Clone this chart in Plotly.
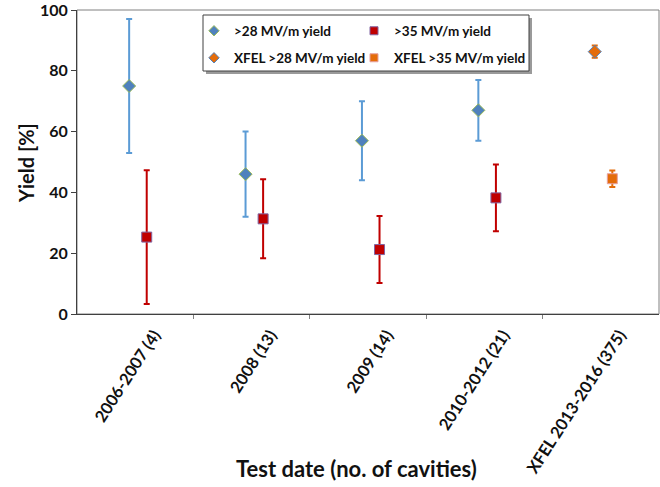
import plotly.graph_objects as go

# ---- data ----
categories = ["2006-2007 (4)", "2008 (13)", "2009 (14)", "2010-2012 (21)", "XFEL 2013-2016 (375)"]
yield28 = [75, 46, 57, 67]
err28 = [22, 14, 13, 10]
yield35 = [25.3, 31.3, 21.2, 38.2]
err35 = [22, 13, 11, 11]
xfel_yield28 = [86.3]
xfel_err28 = [2.0]
xfel_yield35 = [44.5]
xfel_err35 = [2.7]
series_names = [">28 MV/m yield", ">35 MV/m yield", "XFEL >28 MV/m yield", "XFEL >35 MV/m yield"]

FONT = "Lato"
TXT = "#111111"
BLUE = "#5B9BD5"
RED = "#C00000"
ORANGE = "#E46C0A"

idx = list(range(len(categories)))
off28 = -0.052
off35 = 0.099

x28 = [i + off28 for i in idx[:4]]
x35 = [i + off35 for i in idx[:4]]
xx28 = [idx[4] + off28]
xx35 = [idx[4] + off35]

styles = [
    dict(symbol="diamond", color="#4F81BD", line=dict(color="#9BBB59", width=1)),
    dict(symbol="square", color=RED, line=dict(color="#8064A2", width=1)),
    dict(symbol="diamond", color=ORANGE, line=dict(color="#4F81BD", width=1)),
    dict(symbol="square", color=ORANGE, line=dict(color="#E6A0A0", width=1)),
]
bar_colors = [BLUE, RED, ORANGE, ORANGE]
xs = [x28, x35, xx28, xx35]
ys = [yield28, yield35, xfel_yield28, xfel_yield35]
errs = [err28, err35, xfel_err28, xfel_err35]

fig = go.Figure()
for k in range(4):
    fig.add_trace(go.Scatter(
        x=xs[k], y=ys[k], mode="markers", name=series_names[k], showlegend=False,
        marker=dict(size=10, **styles[k]),
        error_y=dict(type="data", array=errs[k], color=bar_colors[k], thickness=2, width=3),
    ))
# legend entries (small markers, as in the original legend), one legend per cell of the 2x2 box
legend_ids = ["legend", "legend2", "legend3", "legend4"]
for k in range(4):
    fig.add_trace(go.Scatter(
        x=[None], y=[None], mode="markers", name=series_names[k], showlegend=True,
        legend=legend_ids[k],
        marker=dict(size=8, **styles[k]),
    ))

boundaries = [i + 0.5 for i in idx[:-1]]

# plot area pixel geometry
L, R, T, B = 77, 1, 10, 173
PW = 660 - L - R
PH = 487 - T - B

def px_x(p):
    return (p - L) / PW

def px_y(p):
    return (487 - B - p) / PH

legend_font = dict(family=FONT, size=13.5, color=TXT, weight="bold")
common_leg = dict(orientation="h", xanchor="left", yanchor="middle",
                  bgcolor="rgba(0,0,0,0)", borderwidth=0, font=legend_font, itemwidth=30)

col_x = [px_x(194), px_x(354)]
row_y = [px_y(31), px_y(58)]

fig.update_layout(
    width=660, height=487,
    margin=dict(l=L, r=R, t=T, b=B),
    paper_bgcolor="white", plot_bgcolor="white",
    font=dict(family=FONT, color=TXT),
    legend=dict(x=col_x[0], y=row_y[0], **common_leg),
    legend2=dict(x=col_x[1], y=row_y[0], **common_leg),
    legend3=dict(x=col_x[0], y=row_y[1], **common_leg),
    legend4=dict(x=col_x[1], y=row_y[1], **common_leg),
    xaxis=dict(
        range=[-0.5, 4.5], tickmode="array", tickvals=idx, ticktext=categories,
        tickangle=-57, ticks="", showgrid=False, zeroline=False,
        ticklabelshift=19, ticklabelstandoff=4,
        showline=True, linecolor="#404040", linewidth=1,
        tickfont=dict(family=FONT, size=16.5, color=TXT, weight="bold"),
        minor=dict(tickmode="array", tickvals=boundaries, ticks="outside", ticklen=4, tickcolor="#808080"),
    ),
    yaxis=dict(
        range=[0, 100], tickmode="linear", tick0=0, dtick=20,
        ticks="outside", ticklen=5, tickcolor="#404040",
        showgrid=False, zeroline=False, ticklabeloverflow="allow",
        showline=True, linecolor="#404040", linewidth=1,
        tickfont=dict(family=FONT, size=16, color=TXT, weight="bold"),
    ),
    shapes=[
        dict(type="rect", xref="x domain", yref="y domain", x0=0, x1=1, y0=0, y1=1,
             line=dict(color="#808080", width=1), layer="below"),
        # legend shadow
        dict(type="rect", xref="paper", yref="paper",
             x0=px_x(206), x1=px_x(532), y0=px_y(74), y1=px_y(18),
             line=dict(width=0), fillcolor="#9a9a9a", layer="above"),
        # legend box
        dict(type="rect", xref="paper", yref="paper",
             x0=px_x(203), x1=px_x(529), y0=px_y(71), y1=px_y(15),
             line=dict(color="#404040", width=1), fillcolor="white", layer="above"),
    ],
    annotations=[
        dict(text="Test date (no. of cavities)", xref="paper", yref="paper",
             x=px_x(356), y=px_y(469), xanchor="center", yanchor="middle", showarrow=False,
             font=dict(family=FONT, size=22, color=TXT, weight="bold")),
        dict(text="Yield [%]", xref="paper", yref="paper", textangle=-90,
             x=px_x(26), y=px_y(163), xanchor="center", yanchor="middle", showarrow=False,
             font=dict(family=FONT, size=20, color=TXT, weight="bold")),
    ],
)

fig.write_html("out.html")
